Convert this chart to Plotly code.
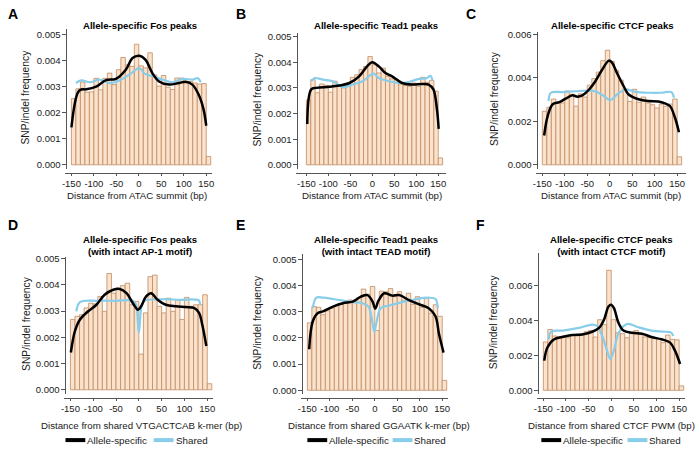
import plotly.graph_objects as go

# ---------------- data (values in units of 0.001) ----------------
bin_centers = list(range(-145, 160, 10))  # bins of width 10 from -150 to 160
x_ticks = [-150, -100, -50, 0, 50, 100, 150]
x_tick_text = ["-150", "-100", "-50", "0", "50", "100", "150"]

fos_hist = [2.54, 2.92, 3.18, 2.79, 2.80, 3.32, 2.88, 3.32, 3.52, 3.08, 3.65, 4.12, 3.84, 3.78, 4.63,
            3.80, 3.72, 4.30, 3.45, 3.02, 3.43, 2.98, 2.89, 3.33, 3.33, 3.14, 3.20, 3.14, 3.10, 3.12, 0.32]
tead1_hist = [2.53, 3.32, 2.81, 3.15, 3.10, 2.83, 3.26, 3.09, 3.00, 3.13, 3.41, 3.51, 3.71, 3.83, 4.22,
              3.90, 3.58, 3.77, 3.45, 3.35, 3.32, 3.15, 3.09, 3.06, 3.19, 3.06, 3.41, 3.22, 3.29, 2.87, 0.27]
ctcf_hist = [2.47, 2.65, 3.03, 2.88, 2.85, 3.40, 3.25, 2.70, 3.27, 3.12, 3.67, 3.97, 4.27, 4.80, 5.28,
             4.77, 4.35, 3.90, 3.48, 2.92, 3.48, 2.88, 3.12, 2.85, 2.77, 2.62, 2.80, 2.70, 2.80, 3.03, 0.37]
fos_motif_hist = [2.68, 2.80, 2.86, 3.12, 3.30, 3.27, 3.55, 2.99, 4.43, 3.68, 3.87, 3.97, 4.06, 3.24, 3.37,
                  1.36, 2.93, 4.31, 4.37, 3.18, 2.93, 3.49, 2.99, 3.43, 2.68, 3.52, 3.18, 3.24, 3.24, 3.62, 0.23]
tead_motif_hist = [2.58, 3.20, 3.17, 2.89, 3.04, 3.14, 3.24, 3.29, 3.39, 3.45, 3.42, 3.54, 3.87, 3.67, 3.97,
                   2.29, 3.79, 3.77, 3.89, 3.58, 3.77, 3.45, 3.71, 3.29, 3.58, 3.17, 3.54, 2.95, 3.27, 2.83, 0.38]
ctcf_motif_hist = [2.76, 3.47, 3.10, 3.06, 3.10, 3.00, 3.15, 3.10, 3.23, 3.34, 3.41, 3.04, 4.03, 3.75, 6.85,
                   4.03, 3.28, 3.23, 3.00, 3.28, 3.41, 3.19, 3.04, 3.00, 2.95, 2.91, 2.72, 3.15, 2.91, 2.88, 0.25]

# density curves: allele-specific (black) and shared (blue)
fos_as_x = [-150, -145, -140, -135, -128, -117, -95, -73, -51, -29, -14, 1, 15, 30, 45, 67, 89, 104, 119, 133, 144, 150]
fos_as_y = [1.44, 2.10, 2.55, 2.80, 2.89, 2.90, 3.00, 3.25, 3.30, 3.65, 4.10, 4.19, 4.03, 3.52, 3.20, 3.08, 3.14, 3.19, 3.08, 2.70, 2.13, 1.50]
fos_sh_x = [-140, -128, -109, -87, -65, -43, -21, 1, 13, 31, 53, 75, 97, 120, 131, 138]
fos_sh_y = [3.14, 3.24, 3.17, 3.27, 3.14, 3.24, 3.46, 3.71, 3.50, 3.40, 3.27, 3.17, 3.30, 3.27, 3.33, 3.17]

tead1_as_x = [-148, -139, -127, -97, -75, -52, -30, -11, 0, 15, 30, 45, 68, 91, 113, 128, 139, 147, 151]
tead1_as_y = [1.59, 2.94, 3.00, 3.04, 3.09, 3.19, 3.45, 3.86, 4.00, 3.83, 3.58, 3.45, 3.19, 3.13, 3.15, 3.13, 2.94, 2.17, 1.40]
tead1_sh_x = [-139, -131, -112, -90, -67, -45, -22, -3, 4, 15, 38, 60, 83, 106, 124, 132, 137]
tead1_sh_y = [3.26, 3.38, 3.32, 3.26, 3.03, 3.13, 3.26, 3.51, 3.55, 3.38, 3.26, 3.19, 3.23, 3.35, 3.38, 3.47, 3.29]

ctcf_as_x = [-146, -138, -127, -112, -98, -83, -72, -61, -46, -32, -17, -2, 5, 16, 31, 42, 64, 86, 108, 123, 134, 145, 154]
ctcf_as_y = [1.35, 2.26, 2.79, 2.89, 3.05, 3.20, 3.14, 3.20, 3.47, 3.85, 4.38, 4.80, 4.71, 4.23, 3.62, 3.24, 3.02, 2.94, 2.92, 2.83, 2.71, 2.18, 1.50]
ctcf_sh_x = [-136, -131, -105, -76, -50, -32, -13, 1, 16, 35, 57, 86, 115, 137, 143]
ctcf_sh_y = [2.94, 3.32, 3.35, 3.39, 3.42, 3.39, 3.17, 2.98, 3.24, 3.47, 3.36, 3.32, 3.32, 3.35, 3.09]

fosm_as_x = [-149, -140, -129, -111, -93, -75, -56, -42, -27, -13, -2, 5, 16, 27, 41, 59, 81, 103, 121, 132, 139, 148]
fosm_as_y = [1.42, 2.24, 2.68, 2.99, 3.24, 3.62, 3.81, 3.84, 3.68, 3.30, 3.05, 3.18, 3.56, 3.68, 3.43, 3.24, 3.18, 3.15, 3.12, 2.93, 2.49, 1.67]
fosm_sh_x = [-137, -129, -90, -50, -13, -6, 0, 6, 12, 52, 88, 132, 134]
fosm_sh_y = [2.99, 3.34, 3.39, 3.39, 3.39, 3.24, 2.17, 3.18, 3.39, 3.45, 3.43, 3.40, 3.24]

teadm_as_x = [-146, -138, -127, -115, -93, -71, -49, -31, -16, -5, 1, 8, 21, 39, 54, 76, 98, 120, 135, 143, 153]
teadm_as_y = [1.57, 2.64, 2.95, 3.02, 3.20, 3.33, 3.39, 3.58, 3.64, 3.39, 3.12, 3.42, 3.71, 3.62, 3.64, 3.45, 3.29, 3.14, 2.83, 2.14, 1.44]
teadm_sh_x = [-138, -130, -115, -93, -71, -49, -27, -14, -7, -1, 5, 13, 32, 61, 90, 120, 135, 140]
teadm_sh_y = [3.14, 3.54, 3.54, 3.49, 3.43, 3.37, 3.33, 3.20, 2.76, 2.24, 2.70, 3.14, 3.24, 3.37, 3.48, 3.54, 3.49, 3.14]

ctcfm_as_x = [-148, -141, -126, -108, -86, -64, -42, -27, -16, -6, 0, 6, 16, 27, 46, 68, 89, 111, 130, 141, 152]
ctcfm_as_y = [1.69, 2.44, 2.91, 3.04, 3.15, 3.19, 3.34, 3.56, 4.03, 4.78, 4.88, 4.69, 3.85, 3.41, 3.28, 3.23, 3.04, 2.91, 2.72, 2.25, 1.50]
ctcfm_sh_x = [-138, -133, -108, -71, -42, -31, -20, -9, -2, 6, 15, 27, 38, 60, 89, 119, 133, 137]
ctcfm_sh_y = [2.91, 3.34, 3.41, 3.56, 3.75, 3.66, 3.10, 2.25, 1.78, 2.29, 3.19, 3.66, 3.79, 3.60, 3.41, 3.34, 3.28, 3.10]

titles = ["Allele-specific Fos peaks", "Allele-specific Tead1 peaks", "Allele-specific CTCF peaks",
          "Allele-specific Fos peaks<br>(with intact AP-1 motif)",
          "Allele-specific Tead1 peaks<br>(with intact TEAD motif)",
          "Allele-specific CTCF peaks<br>(with intact CTCF motif)"]
x_titles = ["Distance from ATAC summit (bp)", "Distance from ATAC summit (bp)", "Distance from ATAC summit (bp)",
            "Distance from shared VTGACTCAB k-mer (bp)", "Distance from shared GGAATK k-mer (bp)",
            "Distance from shared CTCF PWM (bp)"]
letters = ["A", "B", "C", "D", "E", "F"]
legend_labels = ["Allele-specific", "Shared"]

hists = [fos_hist, tead1_hist, ctcf_hist, fos_motif_hist, tead_motif_hist, ctcf_motif_hist]
curves = [(fos_as_x, fos_as_y, fos_sh_x, fos_sh_y), (tead1_as_x, tead1_as_y, tead1_sh_x, tead1_sh_y),
          (ctcf_as_x, ctcf_as_y, ctcf_sh_x, ctcf_sh_y), (fosm_as_x, fosm_as_y, fosm_sh_x, fosm_sh_y),
          (teadm_as_x, teadm_as_y, teadm_sh_x, teadm_sh_y), (ctcfm_as_x, ctcfm_as_y, ctcfm_sh_x, ctcfm_sh_y)]
y_tick_sets = [[0, 1, 2, 3, 4, 5], [0, 1, 2, 3, 4, 5], [0, 2, 4, 6],
               [0, 1, 2, 3, 4, 5], [0, 1, 2, 3, 4, 5], [0, 2, 4, 6]]

SCALE = 1e-3

# ---------------- layout geometry (pixels) ----------------
W, H = 699, 449
FONT = "Liberation Sans, Arial, Helvetica, sans-serif"
geo = [
    dict(pl=68, pr=204, q0=163, qt=31, vt=0.005, ytop=25, ybot=167, xline=171, yline=63, xl=62, xr=210,
         letter=(9, 10), title_y=[22], ytitle_x=22, xt=194),
    dict(pl=305, pr=438, q0=163, qt=33, vt=0.005, ytop=29, ybot=167, xline=171, yline=296, xl=295, xr=446,
         letter=(239, 10), title_y=[22], ytitle_x=256, xt=194),
    dict(pl=543, pr=679, q0=163, qt=31, vt=0.006, ytop=28, ybot=167, xline=171, yline=538, xl=537, xr=688,
         letter=(471, 10), title_y=[22], ytitle_x=494, xt=194),
    dict(pl=67, pr=205, q0=391, qt=258, vt=0.005, ytop=256, ybot=395, xline=399, yline=62, xl=61, xr=211,
         letter=(9, 224), title_y=[238, 252], ytitle_x=22, xt=427),
    dict(pl=306, pr=442, q0=391.5, qt=259, vt=0.005, ytop=253, ybot=395, xline=399, yline=301, xl=300, xr=448,
         letter=(239, 224), title_y=[238, 252], ytitle_x=256, xt=427),
    dict(pl=544, pr=681, q0=391.5, qt=285, vt=0.006, ytop=252, ybot=395, xline=399, yline=539, xl=538, xr=687,
         letter=(481, 224), title_y=[238, 252], ytitle_x=494, xt=427),
]
title_centers = [137, 375, 614, 137, 375, 613]
xtitle_centers = [134, 371, 612, 139, 378, 613]

BAR_FILL = "rgb(250,226,204)"
BAR_LINE = "#c08b62"
BLACK = "#000000"
BLUE = "#88cdea"
AXIS_COL = "#555555"

fig = go.Figure()
annotations = []
shapes = []

for i, g in enumerate(geo):
    k = i + 1
    xa = "x" if k == 1 else f"x{k}"
    ya = "y" if k == 1 else f"y{k}"
    ppu = (g["pr"] - g["pl"]) / 300.0
    xmin = -150 + (g["xl"] - g["pl"]) / ppu
    xmax = 150 + (g["xr"] - g["pr"]) / ppu
    ppv = (g["q0"] - g["qt"]) / g["vt"]
    ymax = (g["q0"] - g["ytop"]) / ppv
    ymin = (g["q0"] - g["ybot"]) / ppv

    fig.add_trace(go.Bar(x=bin_centers, y=[v * SCALE for v in hists[i]], width=10,
                         marker=dict(color=BAR_FILL, line=dict(color=BAR_LINE, width=0.8)),
                         xaxis=xa, yaxis=ya, showlegend=False, hoverinfo="skip"))
    ax, ay, sx, sy = curves[i]
    fig.add_trace(go.Scatter(x=sx, y=[v * SCALE for v in sy], mode="lines",
                             line=dict(color=BLUE, width=2.2, shape="spline", smoothing=1.0),
                             xaxis=xa, yaxis=ya, showlegend=False, hoverinfo="skip"))
    fig.add_trace(go.Scatter(x=ax, y=[v * SCALE for v in ay], mode="lines",
                             line=dict(color=BLACK, width=2.5, shape="spline", smoothing=1.0),
                             xaxis=xa, yaxis=ya, showlegend=False, hoverinfo="skip"))

    xkey = "xaxis" if k == 1 else f"xaxis{k}"
    ykey = "yaxis" if k == 1 else f"yaxis{k}"
    yt = [v * SCALE for v in y_tick_sets[i]]
    fig.update_layout(**{
        xkey: dict(domain=[g["xl"] / W, g["xr"] / W], range=[xmin, xmax], anchor="free",
                   position=1 - g["xline"] / H, showline=True, linecolor=AXIS_COL, linewidth=1,
                   ticks="outside", ticklen=2, tickcolor=AXIS_COL, tickvals=x_ticks, ticktext=x_tick_text,
                   tickangle=0, showgrid=False, zeroline=False,
                   tickfont=dict(family=FONT, size=9.5, color="#1a1a1a")),
        ykey: dict(domain=[1 - g["ybot"] / H, 1 - g["ytop"] / H], range=[ymin, ymax], anchor="free",
                   position=g["yline"] / W, showline=True, linecolor=AXIS_COL, linewidth=1,
                   ticks="outside", ticklen=4, tickcolor=AXIS_COL, tickvals=yt,
                   ticktext=[f"{v:.3f}" for v in yt], showgrid=False, zeroline=False,
                   tickfont=dict(family=FONT, size=9.5, color="#1a1a1a")),
    })

    annotations.append(dict(text=f"<b>{letters[i]}</b>", x=g["letter"][0] / W, y=1 - g["letter"][1] / H,
                            xref="paper", yref="paper", xanchor="center", yanchor="middle", showarrow=False,
                            font=dict(family=FONT, size=14, color="#000")))
    ty = sum(g["title_y"]) / len(g["title_y"])
    annotations.append(dict(text=f"<b>{titles[i]}</b>", x=title_centers[i] / W, y=1 - ty / H,
                            xref="paper", yref="paper", xanchor="center", yanchor="middle", showarrow=False,
                            font=dict(family=FONT, size=9.6, color="#000")))
    annotations.append(dict(text="SNP/indel frequency", x=g["ytitle_x"] / W, y=1 - (g["q0"] + g["ytop"]) / 2 / H,
                            xref="paper", yref="paper", xanchor="center", yanchor="middle", textangle=-90,
                            showarrow=False, font=dict(family=FONT, size=10.3, color="#1a1a1a")))
    annotations.append(dict(text=x_titles[i], x=xtitle_centers[i] / W, y=1 - g["xt"] / H, xref="paper", yref="paper",
                            xanchor="center", yanchor="middle", showarrow=False,
                            font=dict(family=FONT, size=9.7, color="#1a1a1a")))

legend_pos = [(62, 151), (306, 392), (542, 629)]
for (bx, sx0) in legend_pos:
    ly = 442
    shapes.append(dict(type="line", xref="paper", yref="paper", x0=bx / W, x1=(bx + 20) / W,
                       y0=1 - ly / H, y1=1 - ly / H, line=dict(color=BLACK, width=4)))
    annotations.append(dict(text=legend_labels[0], x=(bx + 20) / W, y=1 - ly / H, xref="paper", yref="paper",
                            xanchor="left", yanchor="middle", showarrow=False,
                            font=dict(family=FONT, size=9.8, color="#1a1a1a")))
    shapes.append(dict(type="line", xref="paper", yref="paper", x0=sx0 / W, x1=(sx0 + 20) / W,
                       y0=1 - ly / H, y1=1 - ly / H, line=dict(color=BLUE, width=4)))
    annotations.append(dict(text=legend_labels[1], x=(sx0 + 20) / W, y=1 - ly / H, xref="paper", yref="paper",
                            xanchor="left", yanchor="middle", showarrow=False,
                            font=dict(family=FONT, size=9.8, color="#1a1a1a")))

fig.update_layout(width=W, height=H, margin=dict(l=0, r=0, t=0, b=0, pad=0), paper_bgcolor="white",
                  plot_bgcolor="white", barmode="overlay", annotations=annotations, shapes=shapes,
                  font=dict(family=FONT, size=10, color="#1a1a1a"), showlegend=False)

fig.write_html("out.html", config={"displayModeBar": False},
               post_script="document.body.style.margin='0px';document.body.style.padding='0px';")
